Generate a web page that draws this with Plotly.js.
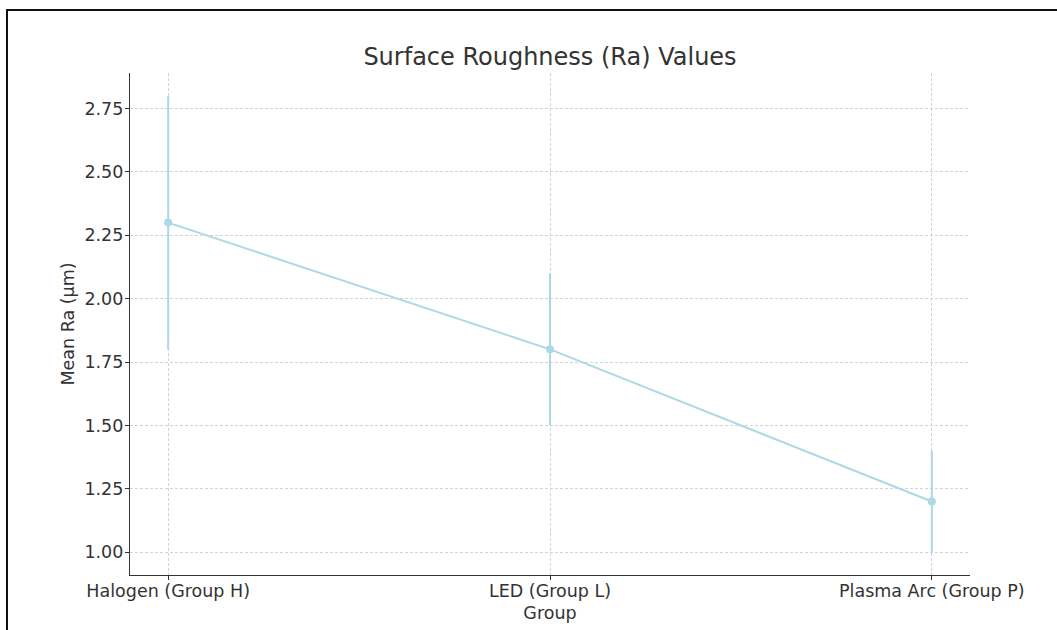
<!DOCTYPE html>
<html>
<head>
<meta charset="utf-8">
<script src="https://cdn.plot.ly/plotly-3.0.1.min.js"></script>
<style>
  html, body { margin: 0; padding: 0; background: #fff; overflow: hidden; }
  #chart { position: absolute; left: 0; top: 0; width: 1057px; height: 630px; }
  #frame { position: absolute; left: 6px; top: 9px; width: 1200px; height: 800px;
           border-top: 2px solid #111; border-left: 2px solid #111; pointer-events: none; }
</style>
</head>
<body>
<div id="chart"></div>
<div id="frame"></div>
<script>
const groups = ["Halogen (Group H)", "LED (Group L)", "Plasma Arc (Group P)"];
const meanRa = [2.3, 1.8, 1.2];
const sdRa = [0.5, 0.3, 0.2];
const yTicks = [1.00, 1.25, 1.50, 1.75, 2.00, 2.25, 2.50, 2.75];
const yTickLabels = ["1.00", "1.25", "1.50", "1.75", "2.00", "2.25", "2.50", "2.75"];

const lineColor = "#add8e6";
const textColor = "#333333";
const font = "DejaVu Sans, sans-serif";

const trace = {
  x: groups,
  y: meanRa,
  type: "scatter",
  mode: "lines+markers",
  line: { color: lineColor, width: 2 },
  marker: { color: lineColor, size: 8 },
  error_y: { type: "data", array: sdRa, visible: true, color: lineColor, thickness: 2, width: 0 },
  hoverinfo: "x+y"
};

const layout = {
  width: 1057,
  height: 630,
  margin: { l: 130, r: 87, t: 73, b: 55 },
  paper_bgcolor: "#ffffff",
  plot_bgcolor: "#ffffff",
  showlegend: false,
  font: { family: font, color: textColor, size: 18 },
  title: {
    text: "Surface Roughness (Ra) Values",
    font: { family: font, size: 24, color: textColor },
    x: 550 / 1057, xanchor: "center",
    y: 1 - 57 / 630, yanchor: "middle"
  },
  xaxis: {
    type: "category",
    range: [-0.1, 2.1],
    showline: true, linecolor: "#333", linewidth: 1.2, mirror: false,
    ticks: "outside", ticklen: 4, tickcolor: "#333", tickwidth: 1,
    ticklabelstandoff: -4,
    showgrid: true, gridcolor: "#d3d3d3", gridwidth: 0.8, griddash: "3px,2px",
    zeroline: false,
    tickfont: { family: font, size: 17.5, color: textColor },
    title: { text: "Group", font: { family: font, size: 17.5, color: textColor }, standoff: 6 }
  },
  yaxis: {
    range: [0.91, 2.89],
    tickmode: "array", tickvals: yTicks, ticktext: yTickLabels,
    showline: true, linecolor: "#333", linewidth: 1.2, mirror: false,
    ticks: "outside", ticklen: 4, tickcolor: "#333", tickwidth: 1,
    ticklabelstandoff: -2,
    showgrid: true, gridcolor: "#d3d3d3", gridwidth: 0.8, griddash: "3px,2px",
    zeroline: false,
    tickfont: { family: font, size: 17.5, color: textColor },
    title: { text: "Mean Ra (μm)", font: { family: font, size: 17.5, color: textColor }, standoff: 5 }
  }
};

Plotly.newPlot("chart", [trace], layout, { displayModeBar: false, staticPlot: false });
</script>
</body>
</html>
